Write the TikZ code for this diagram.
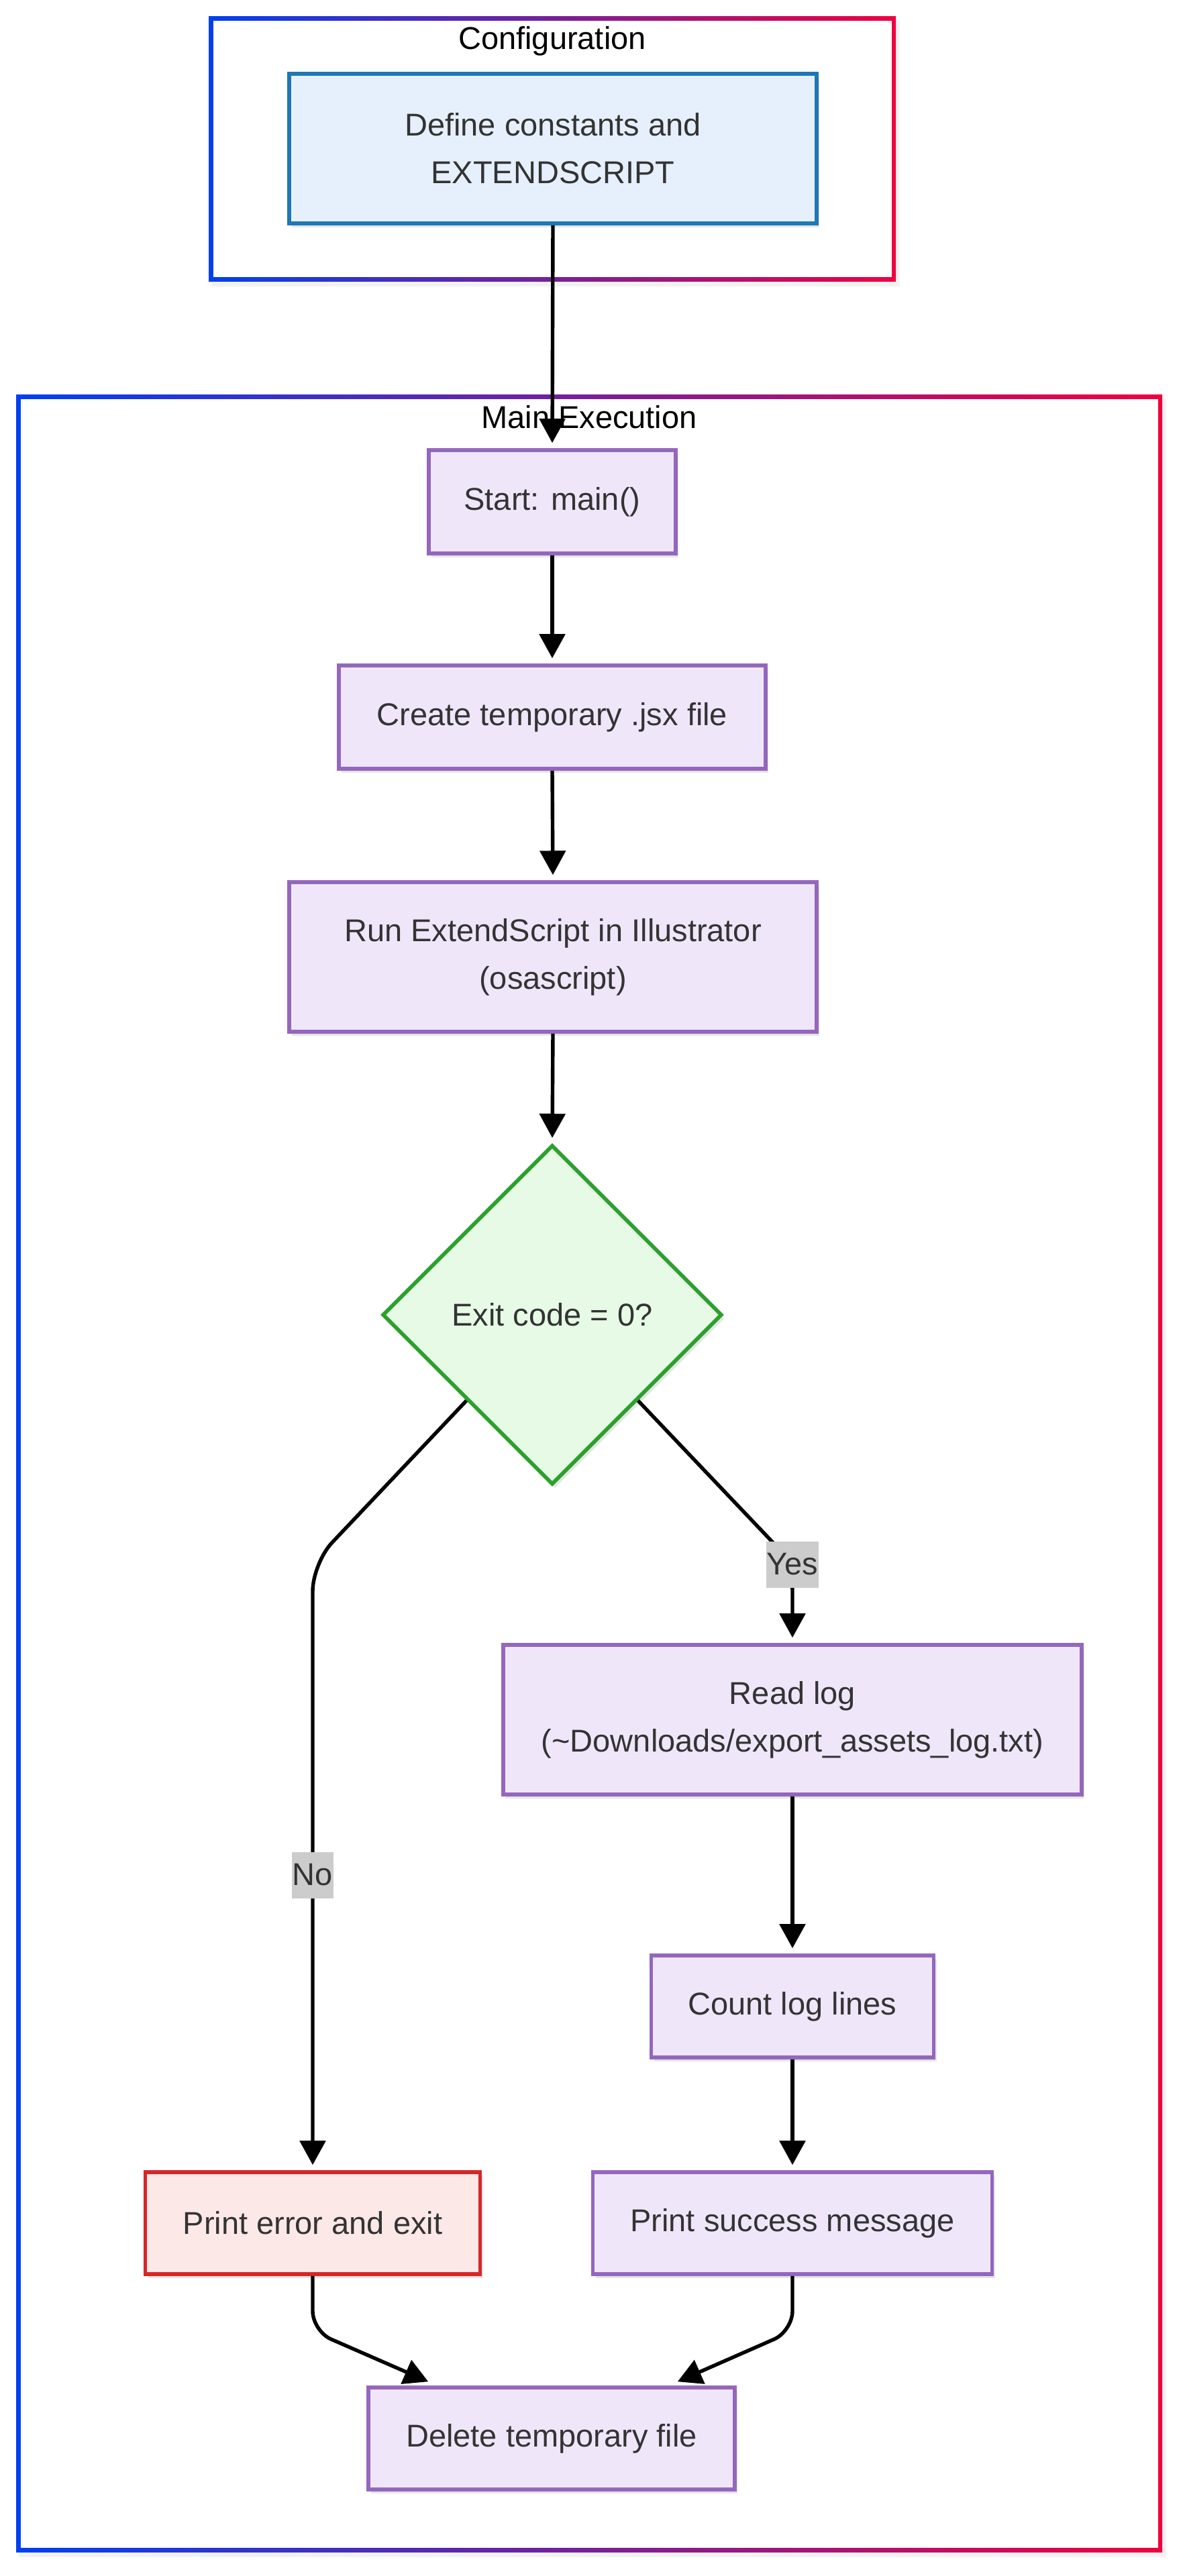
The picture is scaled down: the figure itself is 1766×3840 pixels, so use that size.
\documentclass[tikz,border=0pt]{standalone}
\usepackage{fontspec}
\setmainfont{Liberation Sans}
\usetikzlibrary{shapes.geometric,arrows.meta,shadows,calc}
\definecolor{txt}{HTML}{333333}
\definecolor{pfill}{HTML}{F0E6FA}
\definecolor{pline}{HTML}{9467BD}
\definecolor{bfill}{HTML}{E6F0FC}
\definecolor{bline}{HTML}{1F77B4}
\definecolor{gfill}{HTML}{E6FAE6}
\definecolor{gline}{HTML}{2CA02C}
\definecolor{rfill}{HTML}{FDE8E8}
\definecolor{rline}{HTML}{D62728}
\definecolor{cblue}{HTML}{0040F0}
\definecolor{cred}{HTML}{F00040}
\definecolor{lblgray}{HTML}{CCCCCC}
\begin{document}
\begin{tikzpicture}[x=0.5pt,y=-0.5pt,
  basefont/.style={font=\fontsize{23.5pt}{35.5pt}\selectfont},
  box/.style={basefont, rectangle, draw, line width=2.8pt, inner sep=0pt, align=center, text=txt,
    drop shadow={shadow xshift=2pt, shadow yshift=-3pt, fill=black, opacity=0.10}},
  pbox/.style={box, draw=pline, fill=pfill},
  bbox/.style={box, draw=bline, fill=bfill},
  rbox/.style={box, draw=rline, fill=rfill},
  decision/.style={basefont, diamond, aspect=1, draw=gline, fill=gfill, line width=2.8pt, inner sep=0pt,
    minimum width=253pt, minimum height=253pt, text=txt,
    drop shadow={shadow xshift=2pt, shadow yshift=-3pt, fill=black, opacity=0.10}},
  ttl/.style={basefont, text=black, inner sep=0pt},
  elabel/.style={basefont, fill=lblgray, text=txt, inner xsep=0.5pt, inner ysep=0pt, minimum height=34.5pt},
  arr/.style={draw=black, line width=2.7pt, -{Triangle[length=18pt,width=19pt]}, shorten >=4pt}
]
\useasboundingbox (0,0) rectangle (1766,3840);
\fill[white] (0,0) rectangle (1766,3840);

% clusters
\fill[black,opacity=0.05] (315,30) rectangle (1341,427);
\fill[left color=cblue,right color=cred] (311,24) rectangle (1335,419);
\fill[white] (317.5,30.5) rectangle (1328.5,412.5);
\fill[black,opacity=0.05] (28,594) rectangle (1738,3812);
\fill[left color=cblue,right color=cred] (24,588) rectangle (1732,3804);
\fill[white] (30.5,594.5) rectangle (1725.5,3797.5);

\node[ttl] (t1) at (823,61) {Configuration};
\node[ttl] (t2) at (878,622) {Main Execution};

% nodes
\node[bbox, minimum width=393pt, minimum height=111.5pt] (def) at (824,221.5) {Define constants and\\EXTENDSCRIPT};
\node[pbox, minimum width=184pt, minimum height=77pt] (start) at (823,748) {Start: main()};
\node[pbox, minimum width=318pt, minimum height=77pt] (create) at (823,1069) {Create temporary .jsx file};
\node[pbox, minimum width=393pt, minimum height=111.5pt] (run) at (824,1426.5) {Run ExtendScript in Illustrator\\(osascript)};
\node[decision] (dia) at (823,1960) {Exit code = 0?};
\node[pbox, minimum width=431pt, minimum height=111.5pt] (read) at (1181,2563.5) {Read log\\(\textasciitilde Downloads/export\_assets\_log.txt)};
\node[pbox, minimum width=210.5pt, minimum height=76pt] (count) at (1181,2991) {Count log lines};
\node[pbox, minimum width=297.5pt, minimum height=76pt] (succ) at (1181,3314) {Print success message};
\node[rbox, minimum width=249.5pt, minimum height=76pt] (err) at (466,3314) {Print error and exit};
\node[pbox, minimum width=273pt, minimum height=76pt] (del) at (822,3635) {Delete temporary file};

% edges
\draw[arr] (def.south) -- (start.north);
\draw[arr] (start.south) -- (create.north);
\draw[arr] (create.south) -- (run.north);
\draw[arr] (run.south) -- (dia.north);
\draw[arr, rounded corners=21pt] (dia.-45) -- (1181,2330) -- (read.north);
\draw[arr, rounded corners=21pt] (dia.-135) -- (466,2330) -- (err.north);
\draw[arr] (read.south) -- (count.north);
\draw[arr] (count.south) -- (succ.north);
\draw[arr, shorten >=0pt, rounded corners=15pt] (err.south) -- (466,3475) -- ([xshift=46pt,yshift=3pt]del.north west);
\draw[arr, shorten >=0pt, rounded corners=15pt] (succ.south) -- (1181,3475) -- ([xshift=-44pt,yshift=3pt]del.north east);

% edge labels
\node[elabel] (yes) at (1181,2332) {Yes};
\node[elabel] (no) at (466,2795) {No};
\end{tikzpicture}
\end{document}
